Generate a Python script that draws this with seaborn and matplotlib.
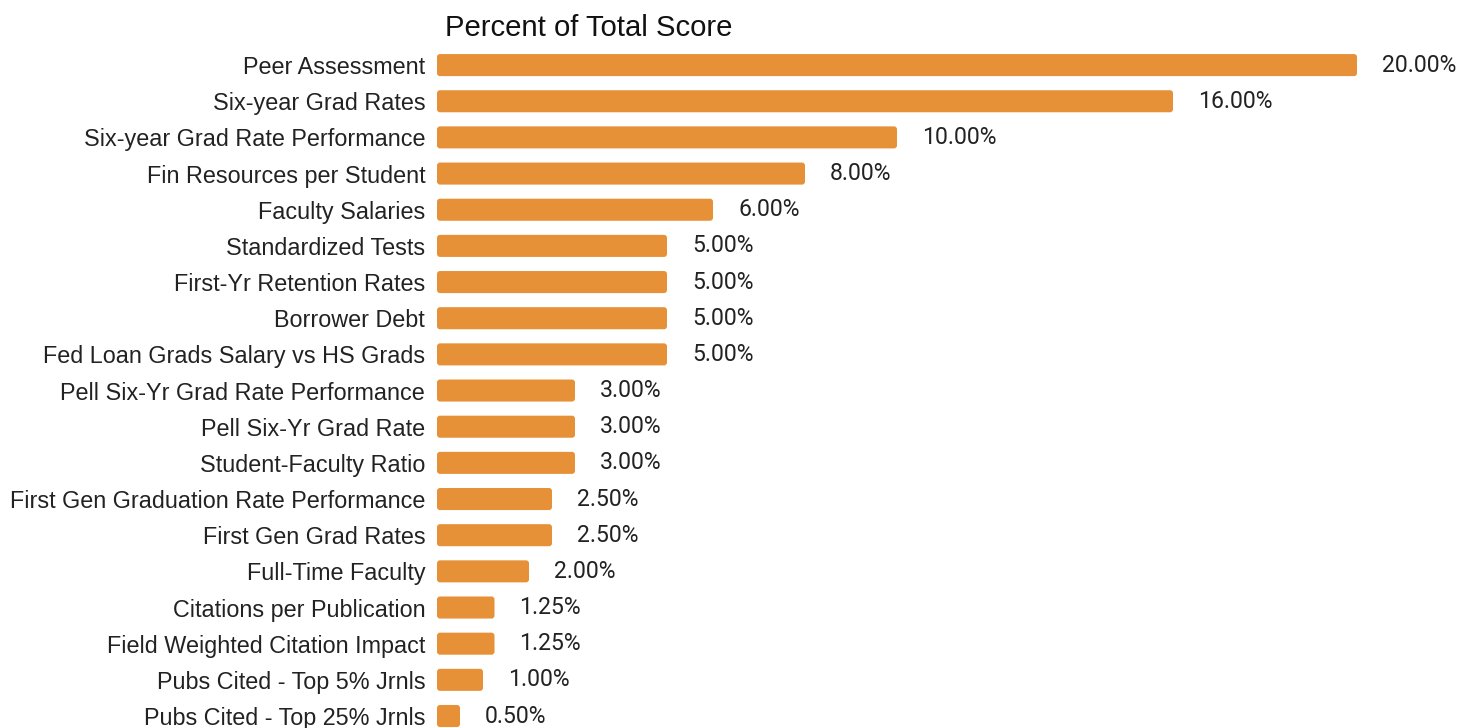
import matplotlib
matplotlib.use("Agg")
import matplotlib.pyplot as plt
import pandas as pd
import seaborn as sns
from matplotlib.patches import FancyBboxPatch

categories = [
    "Peer Assessment", "Six-year Grad Rates", "Six-year Grad Rate Performance",
    "Fin Resources per Student", "Faculty Salaries", "Standardized Tests",
    "First-Yr Retention Rates", "Borrower Debt", "Fed Loan Grads Salary vs HS Grads",
    "Pell Six-Yr Grad Rate Performance", "Pell Six-Yr Grad Rate",
    "Student-Faculty Ratio", "First Gen Graduation Rate Performance",
    "First Gen Grad Rates", "Full-Time Faculty", "Citations per Publication",
    "Field Weighted Citation Impact", "Pubs Cited - Top 5% Jrnls",
    "Pubs Cited - Top 25% Jrnls",
]
weights = [20.0, 16.0, 10.0, 8.0, 6.0, 5.0, 5.0, 5.0, 5.0, 3.0, 3.0, 3.0,
           2.5, 2.5, 2.0, 1.25, 1.25, 1.0, 0.5]

df = pd.DataFrame({"category": categories, "weight": weights})

sns.set_theme(style="white")
plt.rcParams["font.family"] = ["Liberation Sans", "DejaVu Sans"]

fig = plt.figure(figsize=(14.6, 7.28), dpi=100)
ax = fig.add_axes([437 / 1460, 0, 1 - 437 / 1460, 1 - 47 / 728])

sns.barplot(data=df, x="weight", y="category", color="#E69138",
            saturation=1, width=0.61, ax=ax)

# swap the square bars for slightly rounded ones
px_x = 46.0      # pixels per data unit (x)
px_y = 36.17     # pixels per data unit (y)
r = 3.0 / px_x
for bar in list(ax.patches):
    x, y = bar.get_x(), bar.get_y()
    w, h = bar.get_width(), bar.get_height()
    rounded = FancyBboxPatch((x, y), w, h,
                             boxstyle=f"round,pad=0,rounding_size={min(r, w / 2)}",
                             mutation_aspect=px_x / px_y,
                             facecolor=bar.get_facecolor(), edgecolor="none")
    bar.set_visible(False)
    ax.add_patch(rounded)

ax.bar_label(ax.containers[0], labels=[f"{v:.2f}%" for v in weights],
             padding=18, fontsize=16.6, color="#222222",
             family=["Roboto", "DejaVu Sans"])

ax.set_xlim(0, (1460 - 437) / px_x)
ax.set_ylim(18 + 12 / px_y, -0.5)
ax.set_xlabel("")
ax.set_ylabel("")
ax.set_xticks([])
ax.tick_params(axis="y", length=0, pad=8.5, labelsize=16.85, labelcolor="#222222")
sns.despine(ax=ax, left=True, bottom=True)

fig.text(445 / 1460, 1 - 28 / 728, "Percent of Total Score", fontsize=21.1,
         color="#111111", va="center", ha="left")

fig.savefig("out.png", dpi=100)
plt.close(fig)
